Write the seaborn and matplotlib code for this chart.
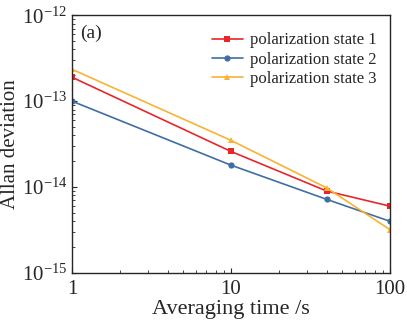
import matplotlib
matplotlib.use("Agg")
import matplotlib.pyplot as plt
import seaborn as sns
import pandas as pd
from matplotlib.ticker import LogLocator, NullFormatter

tau = [1, 10, 40, 100]
state1 = [1.9e-13, 2.6e-14, 9.0e-15, 6.0e-15]
state2 = [1.0e-13, 1.8e-14, 7.2e-15, 4.0e-15]
state3 = [2.35e-13, 3.5e-14, 9.8e-15, 3.2e-15]
labels = ["polarization state 1", "polarization state 2", "polarization state 3"]
ytick_vals = [1e-15, 1e-14, 1e-13, 1e-12]
ytick_labels = [r"$10^{-15}$", r"$10^{-14}$", r"$10^{-13}$", r"$10^{-12}$"]

sns.set_style("ticks")
plt.rcParams['font.family'] = ['Liberation Serif', 'DejaVu Serif']
plt.rcParams['mathtext.fontset'] = 'custom'
plt.rcParams['mathtext.rm'] = 'Liberation Serif'
plt.rcParams['mathtext.it'] = 'Liberation Serif:italic'

df = pd.concat([
    pd.DataFrame({"tau": tau, "adev": s, "state": lab})
    for s, lab in zip([state1, state2, state3], labels)
])

fig, ax = plt.subplots(figsize=(4.07, 3.25), dpi=100)
palette = {labels[0]: "#e8262a", labels[1]: "#3e6ea5", labels[2]: "#f9b233"}
markers = {labels[0]: "s", labels[1]: "o", labels[2]: "^"}
sns.lineplot(data=df, x="tau", y="adev", hue="state", style="state",
             markers=markers, dashes=False, palette=palette, ax=ax,
             markersize=4.5, markeredgewidth=0, linewidth=1.2)
ax.set_xscale("log")
ax.set_yscale("log")
ax.set_xlim(1, 100)
ax.set_ylim(1e-15, 1e-12)
ax.set_xticks([1, 10, 100])
ax.set_xticklabels(["1", "10", "100"])
ax.set_yticks(ytick_vals)
ax.set_yticklabels(ytick_labels)
ax.xaxis.set_minor_locator(LogLocator(base=10, subs=range(2, 10)))
ax.xaxis.set_minor_formatter(NullFormatter())
ax.yaxis.set_minor_locator(LogLocator(base=10, subs=range(2, 10)))
ax.yaxis.set_minor_formatter(NullFormatter())
ax.tick_params(which="both", direction="in", top=False, right=False)
ax.tick_params(which="major", length=3.5, width=0.8, labelsize=15)
ax.tick_params(axis="x", which="major", pad=5)
ax.tick_params(which="minor", length=2, width=0.6)
for sp in ax.spines.values():
    sp.set_linewidth(1.0)
ax.set_xlabel("Averaging time /s", fontsize=16, labelpad=1)
ax.set_ylabel("Allan deviation", fontsize=15, labelpad=1)
ax.text(0.025, 0.965, "(a)", transform=ax.transAxes, fontsize=14, va="top", ha="left")
leg = ax.legend(loc="upper right", bbox_to_anchor=(1.0, 0.985), frameon=False,
                fontsize=12, handlelength=1.9, handletextpad=0.4,
                labelspacing=0.2, borderaxespad=0.4)
leg.set_title(None)
fig.subplots_adjust(left=0.177, right=0.958, top=0.953, bottom=0.16)
fig.savefig("out.png", dpi=100)
